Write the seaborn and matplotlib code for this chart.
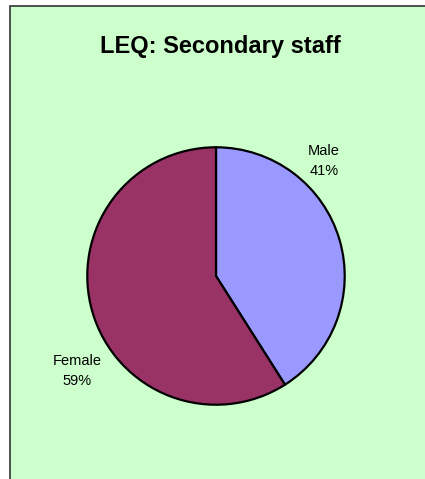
import matplotlib
matplotlib.use("Agg")
import matplotlib.pyplot as plt
import seaborn as sns
from matplotlib.patches import Rectangle

# data
labels = ["Male", "Female"]
shares = [41, 59]
colors = ["#9999FF", "#993366"]
title = "LEQ: Secondary staff"

sns.set_style("white")
plt.rcParams["font.family"] = ["Liberation Sans", "DejaVu Sans"]

W, H = 425, 479
fig = plt.figure(figsize=(W / 100, H / 100), dpi=100)
fig.patch.set_facecolor("white")

# green chart area with a dark border on the left and top
fig.patches.append(Rectangle((10 / W, -0.01), 1.0, (H - 6) / H + 0.01,
                             transform=fig.transFigure, facecolor="#CCFFCC",
                             edgecolor="#333333", linewidth=1.2, zorder=-5))

fig.text(220 / W, 1 - 46 / H, title, ha="center", va="center",
         fontsize=17, fontweight="bold", color="black")

# pie centred at (216, 276) px, radius 130 px
cx, cy, r = 216, 276, 130
ax = fig.add_axes([(cx - r) / W, (H - cy - r) / H, 2 * r / W, 2 * r / H])
ax.set_facecolor("none")
ax.set_zorder(2)
wedges, _ = ax.pie(shares, colors=colors, startangle=90, counterclock=False,
                   radius=1, wedgeprops=dict(edgecolor="black", linewidth=1.6))
ax.set_xlim(-1.01, 1.01)
ax.set_ylim(-1.01, 1.01)
ax.set_aspect("auto")
ax.axis("off")

label_pos = [((325 - cx) / r, (cy - 160) / r), ((76 - cx) / r, (cy - 372) / r)]
for lab, val, (x, y) in zip(labels, shares, label_pos):
    ax.text(x, y, f"{lab}\n{val}%", ha="center", va="center", fontsize=10.5,
            linespacing=1.5, color="black")

fig.savefig("out.png", dpi=100)
